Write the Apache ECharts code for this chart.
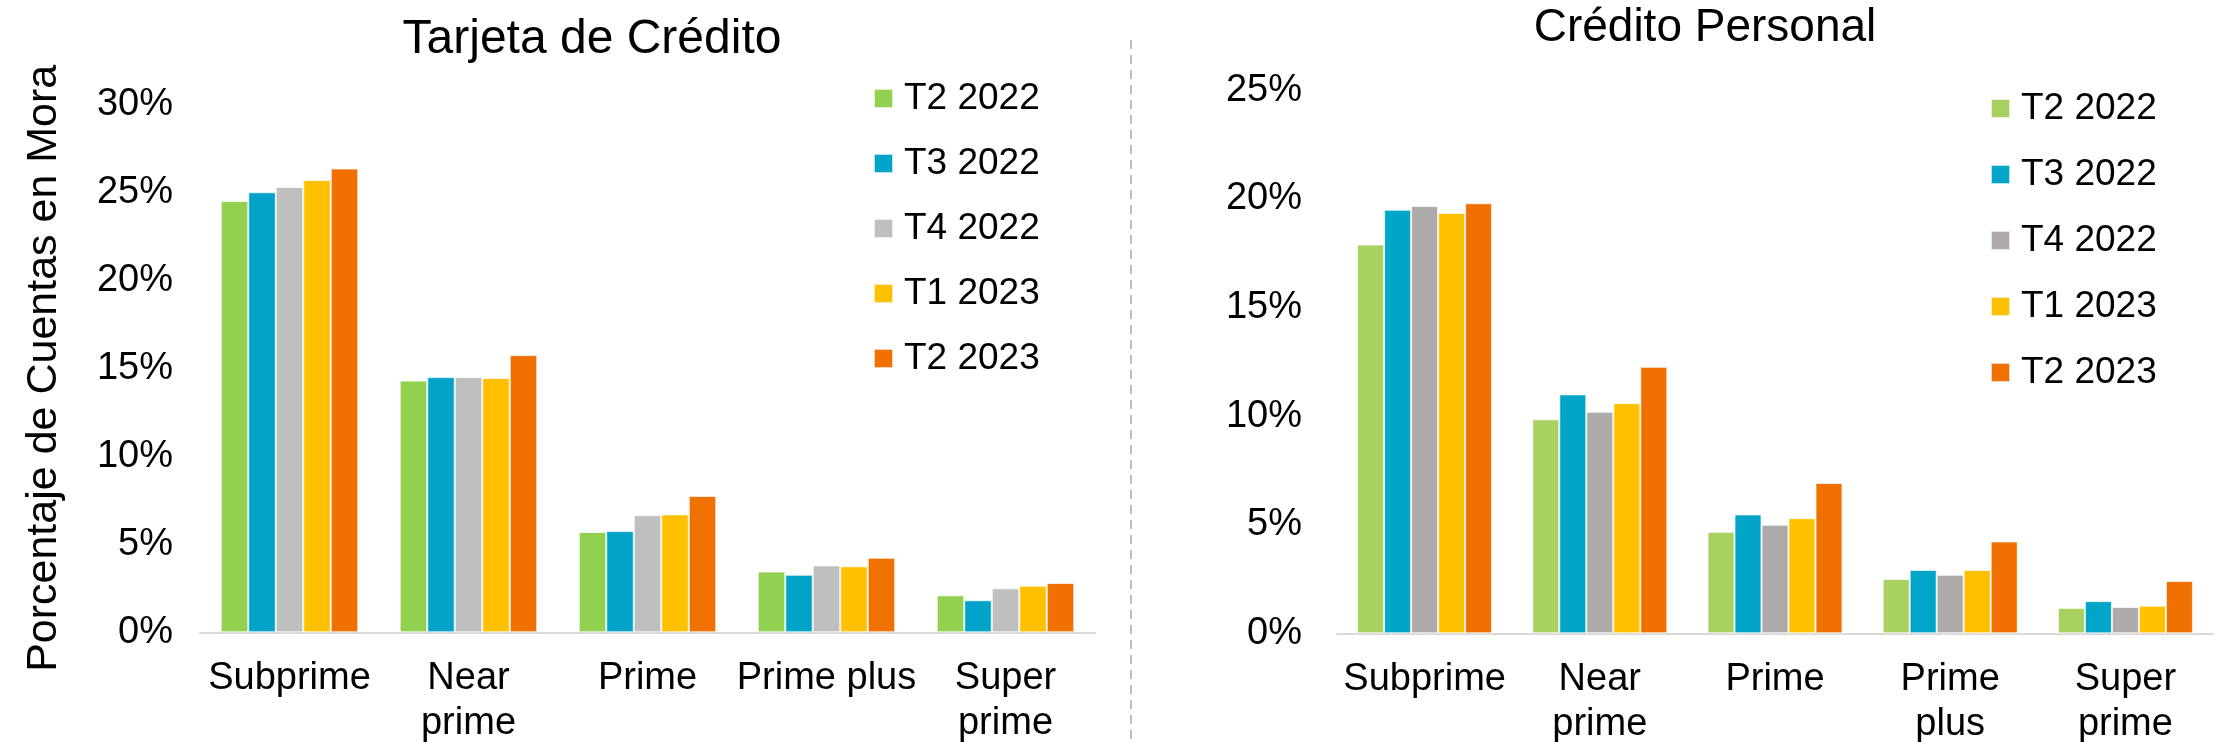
<!DOCTYPE html>
<html>
<head>
<meta charset="utf-8">
<title>Porcentaje de Cuentas en Mora</title>
<script src="https://cdn.jsdelivr.net/npm/echarts@6/dist/echarts.min.js"></script>
<style>
  html, body { margin: 0; padding: 0; background: #fff; }
  #chart { width: 2226px; height: 742px; }
</style>
</head>
<body>
<div id="chart"></div>
<script>
// Categories of credit score
const categoriesTarjeta = ['Subprime', 'Near\nprime', 'Prime', 'Prime plus', 'Super\nprime'];
const categoriesPersonal = ['Subprime', 'Near\nprime', 'Prime', 'Prime\nplus', 'Super\nprime'];

// Quarters shown in each panel
const periods = ['T2 2022', 'T3 2022', 'T4 2022', 'T1 2023', 'T2 2023'];

// Tarjeta de Crédito: % of delinquent accounts
const tarjetaT2_2022 = [24.5, 14.3, 5.7, 3.45, 2.1];
const tarjetaT3_2022 = [25.0, 14.5, 5.75, 3.27, 1.82];
const tarjetaT4_2022 = [25.3, 14.5, 6.65, 3.8, 2.5];
const tarjetaT1_2023 = [25.7, 14.45, 6.7, 3.75, 2.65];
const tarjetaT2_2023 = [26.35, 15.75, 7.75, 4.23, 2.8];

// Crédito Personal: % of delinquent accounts
const personalT2_2022 = [17.9, 9.85, 4.67, 2.5, 1.17];
const personalT3_2022 = [19.5, 11.0, 5.47, 2.92, 1.48];
const personalT4_2022 = [19.67, 10.2, 5.0, 2.69, 1.21];
const personalT1_2023 = [19.35, 10.6, 5.3, 2.92, 1.27];
const personalT2_2023 = [19.8, 12.27, 6.92, 4.23, 2.41];

// Y axis ranges (percent)
const tarjetaMax = 30;
const personalMax = 25;
const tickStep = 5;

const tarjetaData = [tarjetaT2_2022, tarjetaT3_2022, tarjetaT4_2022, tarjetaT1_2023, tarjetaT2_2023];
const personalData = [personalT2_2022, personalT3_2022, personalT4_2022, personalT1_2023, personalT2_2023];

const tarjetaColors = ['#92D050', '#01A4C8', '#BFBFBF', '#FFC000', '#F07002'];
const personalColors = ['#A9D162', '#01A5C8', '#AEAAAA', '#FFC000', '#F07002'];

const FONT = '"Liberation Sans", Arial, sans-serif';

function barSeries(data, colors, axisIndex, barWidth) {
  return data.map((values, i) => ({
    name: periods[i],
    type: 'bar',
    xAxisIndex: axisIndex,
    yAxisIndex: axisIndex,
    data: values,
    barWidth: barWidth,
    barGap: '0%',
    itemStyle: { color: colors[i], borderColor: 'rgba(255,255,255,0.7)', borderWidth: 1 },
    emphasis: { disabled: true },
    silent: true
  }));
}

function legendFor(colors, left, top, gap) {
  return {
    orient: 'vertical',
    left: left,
    top: top,
    padding: 0,
    icon: 'rect',
    itemWidth: 19,
    itemHeight: 19,
    itemGap: gap,
    selectedMode: false,
    textStyle: { fontFamily: FONT, fontSize: 37, lineHeight: 36, color: '#000', padding: [0, 0, 0, 6] },
    data: periods.map((p, i) => ({ name: p, itemStyle: { color: colors[i] } }))
  };
}

const axisLabelStyle = { fontFamily: FONT, fontSize: 38, color: '#000' };

const option = {
  backgroundColor: '#fff',
  animation: false,
  title: [
    {
      text: 'Tarjeta de Crédito',
      left: 592, top: 16, textAlign: 'center', padding: 0,
      textStyle: { fontFamily: FONT, fontSize: 48, fontWeight: 'normal', color: '#000' }
    },
    {
      text: 'Crédito Personal',
      left: 1705, top: 5, textAlign: 'center', padding: 0,
      textStyle: { fontFamily: FONT, fontSize: 46, fontWeight: 'normal', color: '#000' }
    }
  ],
  legend: [
    legendFor(tarjetaColors, 873, 80, 28),
    legendFor(personalColors, 1990, 90, 29)
  ],
  grid: [
    { left: 200, right: 1131, top: 104.3, bottom: 109.7, outerBoundsMode: 'none' },
    { left: 1337, right: 13, top: 90.3, bottom: 108.7, outerBoundsMode: 'none' }
  ],
  xAxis: [
    {
      type: 'category', gridIndex: 0, data: categoriesTarjeta,
      axisLine: { lineStyle: { color: '#D9D9D9', width: 2 } },
      axisTick: { show: false },
      axisLabel: Object.assign({ margin: 24, lineHeight: 45, interval: 0 }, axisLabelStyle)
    },
    {
      type: 'category', gridIndex: 1, data: categoriesPersonal,
      axisLine: { lineStyle: { color: '#D9D9D9', width: 2 } },
      axisTick: { show: false },
      axisLabel: Object.assign({ margin: 24, lineHeight: 45, interval: 0 }, axisLabelStyle)
    }
  ],
  yAxis: [
    {
      type: 'value', gridIndex: 0, min: 0, max: tarjetaMax, interval: tickStep,
      name: 'Porcentaje de Cuentas en Mora',
      nameLocation: 'middle', nameGap: 134,
      nameTextStyle: { fontFamily: FONT, fontSize: 43, color: '#000' },
      axisLine: { show: false }, axisTick: { show: false }, splitLine: { show: false },
      axisLabel: Object.assign({ margin: 27, formatter: '{value}%' }, axisLabelStyle)
    },
    {
      type: 'value', gridIndex: 1, min: 0, max: personalMax, interval: tickStep,
      axisLine: { show: false }, axisTick: { show: false }, splitLine: { show: false },
      axisLabel: Object.assign({ margin: 35, formatter: '{value}%' }, axisLabelStyle)
    }
  ],
  graphic: [
    {
      type: 'line', silent: true,
      shape: { x1: 1131, y1: 40, x2: 1131, y2: 742 },
      style: { stroke: '#BFBFBF', lineWidth: 2, lineDash: [9, 6] }
    }
  ],
  series: barSeries(tarjetaData, tarjetaColors, 0, 27.5).concat(barSeries(personalData, personalColors, 1, 27))
};

const chart = echarts.init(document.getElementById('chart'), null, { renderer: 'canvas' });
chart.setOption(option);
</script>
</body>
</html>
